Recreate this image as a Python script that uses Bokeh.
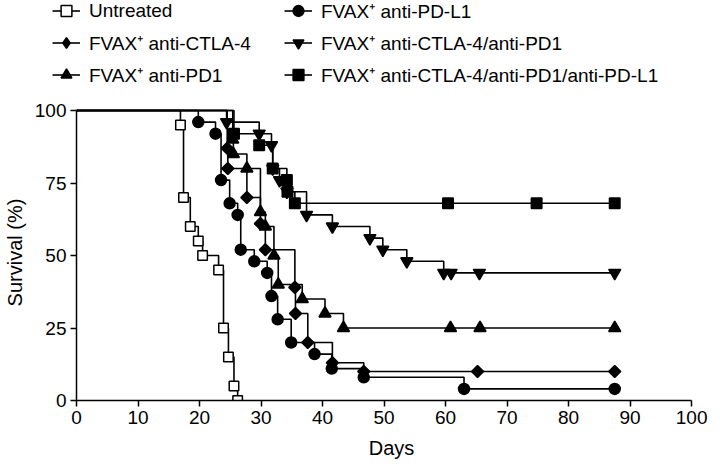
from bokeh.plotting import figure
from bokeh.models import Range1d, Legend, LegendItem, FixedTicker
from bokeh.layouts import column
from bokeh.embed import file_html
from bokeh.resources import INLINE

# ---- data (days, survival %) ----
labels = ["Untreated", "FVAX\u207a anti-PD-L1", "FVAX\u207a anti-CTLA-4",
          "FVAX\u207a anti-CTLA-4/anti-PD1", "FVAX\u207a anti-PD1",
          "FVAX\u207a anti-CTLA-4/anti-PD1/anti-PD-L1"]

untreated_t = [16.9, 17.4, 18.5, 19.8, 20.5, 23.1, 23.9, 24.7, 25.6, 26.2]
untreated_s = [95, 70, 60, 55, 50, 45, 25, 15, 5, 0]
untreated_ct = []
untreated_cs = []

pdl1_t = [19.8, 22.6, 23.5, 24.9, 26.2, 26.7, 28.9, 31.0, 31.7, 32.7, 34.9, 38.7, 41.5, 46.7, 63.0]
pdl1_s = [96, 92, 76, 68, 64, 52, 48, 44, 36, 28, 20, 16, 11, 8, 4]
pdl1_ct = [87.5]
pdl1_cs = [4]

ctla4_t = [24.5, 24.6, 27.7, 29.9, 30.7, 35.5, 35.6, 37.6, 41.6, 46.7]
ctla4_s = [87, 80, 70, 61, 52, 39, 30, 20, 13, 10]
ctla4_ct = [65.2, 87.5]
ctla4_cs = [10, 10]

ctla4pd1_t = [24.4, 29.7, 31.7, 31.9, 33.0, 34.2, 37.4, 41.6, 47.7, 49.8, 53.7, 59.7]
ctla4pd1_s = [96, 92, 88, 80, 76, 72, 64, 60, 56, 52, 48, 44]
ctla4pd1_ct = [60.9, 65.5, 87.5]
ctla4pd1_cs = [44, 44, 44]

pd1_t = [25.4, 25.5, 27.7, 29.9, 30.7, 32.1, 32.8, 36.7, 40.4, 43.4]
pd1_s = [90, 85, 80, 65, 60, 50, 40, 35, 30, 25]
pd1_ct = [60.8, 65.6, 87.5]
pd1_cs = [25, 25, 25]

triple_t = [25.6, 29.7, 31.9, 34.2, 34.3, 35.5]
triple_s = [92, 88, 80, 76, 72, 68]
triple_ct = [60.4, 74.8, 87.5]
triple_cs = [68, 68, 68]

x_ticks = [0, 10, 20, 30, 40, 50, 60, 70, 80, 90, 100]
y_ticks = [0, 25, 50, 75, 100]

# (times, survival, censor times, censor levels, marker, size, fill, angle, legend marker)
groups = [
    (untreated_t, untreated_s, untreated_ct, untreated_cs, "square", 9.5, "white", 0.0, "square"),
    (pdl1_t, pdl1_s, pdl1_ct, pdl1_cs, "circle", 11, "black", 0.0, "circle"),
    (ctla4_t, ctla4_s, ctla4_ct, ctla4_cs, "square", 8.5, "black", 0.785398, "diamond"),
    (ctla4pd1_t, ctla4pd1_s, ctla4pd1_ct, ctla4pd1_cs, "inverted_triangle", 12, "black", 0.0, "inverted_triangle"),
    (pd1_t, pd1_s, pd1_ct, pd1_cs, "triangle", 12, "black", 0.0, "triangle"),
    (triple_t, triple_s, triple_ct, triple_cs, "square", 10.5, "black", 0.0, "square"),
]

FONT = "Liberation Sans"
W = 710

# ---------------- main plot ----------------
p = figure(width=W, height=365, x_range=Range1d(0, 102.42), y_range=Range1d(0, 102.07),
           output_backend="svg", toolbar_location=None, title=None,
           min_border_left=72, min_border_right=4, min_border_top=4, min_border_bottom=65)
p.outline_line_color = None
p.grid.visible = False

for (t, s, ct, cs, marker, size, fill, ang, lm) in groups:
    xs = [0] + list(t) + (list(ct[-1:]) if ct else [])
    ys = [100] + list(s) + (list(cs[-1:]) if cs else [])
    p.step(xs, ys, mode="after", line_color="black", line_width=1.6)
    p.scatter(list(t) + list(ct), list(s) + list(cs), marker=marker, size=size,
              fill_color=fill, line_color="black", line_width=1.5, angle=ang)

for ax in (p.xaxis[0], p.yaxis[0]):
    ax.bounds = (0, 100)
    ax.axis_line_width = 1.5
    ax.axis_line_color = "black"
    ax.major_tick_line_width = 1.5
    ax.major_tick_line_color = "black"
    ax.major_tick_out = 6
    ax.major_tick_in = 0
    ax.minor_tick_line_color = None
    ax.major_label_text_font = FONT
    ax.major_label_text_font_size = "19px"
    ax.major_label_text_color = "black"
    ax.major_label_standoff = 4
    ax.axis_label_text_font = FONT
    ax.axis_label_text_font_size = "20px"
    ax.axis_label_text_font_style = "normal"
    ax.axis_label_text_color = "black"

p.xaxis[0].ticker = FixedTicker(ticks=x_ticks)
p.yaxis[0].ticker = FixedTicker(ticks=y_ticks)
p.xaxis[0].axis_label = "Days"
p.yaxis[0].axis_label = "Survival (%)"
p.xaxis[0].axis_label_standoff = 10
p.yaxis[0].axis_label_standoff = 6

# ---------------- legend strip ----------------
lg_fig = figure(width=W, height=100, x_range=Range1d(0, 1), y_range=Range1d(0, 1),
                output_backend="svg", toolbar_location=None, title=None,
                x_axis_type=None, y_axis_type=None, min_border=0)
lg_fig.outline_line_color = None
lg_fig.grid.visible = False

for fig in (lg_fig, p):
    try:
        fig.frame_align = False
    except Exception:
        pass

items = []
for (t, s, ct, cs, marker, size, fill, ang, lm), lab in zip(groups, labels):
    ln = lg_fig.step([-5, -4], [-5, -5], mode="after", line_color="black", line_width=1.6)
    sc = lg_fig.scatter([-5], [-5], marker=lm, size=size, fill_color=fill,
                        line_color="black", line_width=1.5)
    items.append(LegendItem(label=lab, renderers=[ln, sc]))

col1 = [items[0], items[2], items[4]]
col2 = [items[1], items[3], items[5]]
for col, vx in ((col1, 52), (col2, 284)):
    lg = Legend(items=col, location=(vx, 12), orientation="vertical",
                glyph_width=28, glyph_height=27, label_height=27, spacing=5,
                label_standoff=9, padding=0, margin=0,
                border_line_color=None, background_fill_alpha=0,
                label_text_font=FONT, label_text_font_size="19px",
                label_text_color="black")
    lg_fig.add_layout(lg, "center")

open("out.html", "w").write(file_html(column(lg_fig, p), INLINE))
